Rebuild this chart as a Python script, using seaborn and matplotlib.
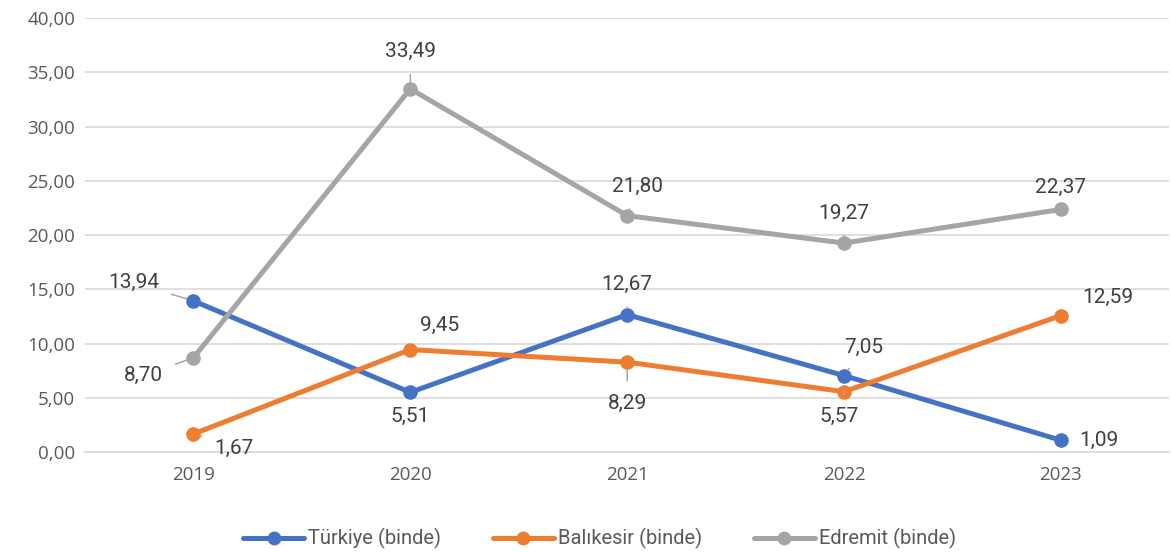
import matplotlib
matplotlib.use("Agg")
import matplotlib.pyplot as plt
import seaborn as sns
import pandas as pd
from matplotlib.lines import Line2D

years = ["2019", "2020", "2021", "2022", "2023"]
turkiye = [13.94, 5.51, 12.67, 7.05, 1.09]
balikesir = [1.67, 9.45, 8.29, 5.57, 12.59]
edremit = [8.70, 33.49, 21.80, 19.27, 22.37]
series_names = ["Türkiye (binde)", "Balıkesir (binde)", "Edremit (binde)"]
colors = ["#4472C4", "#ED7D31", "#A5A5A5"]

rows = []
for name, vals in zip(series_names, [turkiye, balikesir, edremit]):
    for i, v in enumerate(vals):
        rows.append({"x": i, "year": years[i], "value": v, "series": name})
df = pd.DataFrame(rows)

sns.set_theme(style="white")
plt.rcParams["font.family"] = ["Roboto", "DejaVu Sans"]

fig = plt.figure(figsize=(11.71, 5.52), dpi=100)
ax = fig.add_axes([0.0726, 0.181, 0.926, 0.786])

sns.lineplot(data=df, x="x", y="value", hue="series", palette=colors,
             hue_order=series_names, linewidth=3.6, marker="o", markersize=10.5,
             markeredgewidth=0, legend=False, ax=ax, sort=False)

ax.set_xlim(-0.5, 4.5)
ax.set_ylim(0, 40)
ax.set_yticks(range(0, 41, 5))
ax.set_yticklabels([f"{v:.2f}".replace(".", ",") for v in range(0, 41, 5)])
ax.set_xticks(range(5))
ax.set_xticklabels(years)
ax.yaxis.grid(True, color="#D9D9D9", linewidth=1.2)
ax.set_axisbelow(True)
for s in ax.spines.values():
    s.set_visible(False)
ax.spines["bottom"].set_visible(True)
ax.spines["bottom"].set_color("#D9D9D9")
ax.spines["bottom"].set_linewidth(1.2)
ax.set_xlabel("")
ax.set_ylabel("")
ax.tick_params(axis="y", length=0, colors="#595959", pad=7)
ax.tick_params(axis="x", length=0, colors="#595959", pad=10)
for t in ax.get_xticklabels() + ax.get_yticklabels():
    t.set_fontfamily(["Open Sans", "DejaVu Sans"])
    t.set_fontsize(13.5)

# label offsets in pixels (dx, dy) and whether leader line is drawn
offsets = {
    0: [(-60, 18, True), (0, -24, False), (0, 30, True), (20, 28, True), (38, 0, False)],
    1: [(40, -14, True), (29, 24, False), (0, -41, True), (-5, -25, True), (47, 18, False)],
    2: [(-50, -18, True), (0, 37, True), (10, 29, True), (0, 30, True), (0, 22, False)],
}
for si, vals in enumerate([turkiye, balikesir, edremit]):
    for i, v in enumerate(vals):
        dx, dy, lead = offsets[si][i]
        txt = f"{v:.2f}".replace(".", ",")
        kw = {}
        if lead:
            kw["arrowprops"] = dict(arrowstyle="-", color="#A6A6A6", lw=1.1,
                                    shrinkA=7, shrinkB=5)
        ax.annotate(txt, xy=(i, v), xytext=(dx, dy), textcoords="offset pixels",
                    ha="center", va="center", fontsize=15, color="#404040", **kw)

handles = [Line2D([0], [0], color=c, lw=3.6, marker="o", markersize=10,
                  markeredgewidth=0) for c in colors]
leg = fig.legend(handles, series_names, loc="lower center", ncol=3,
                 bbox_to_anchor=(0.512, -0.028), frameon=False, fontsize=14.5,
                 handlelength=3.0, columnspacing=2.6, handletextpad=0.2)
for t in leg.get_texts():
    t.set_color("#595959")

fig.savefig("out.png", dpi=100)
